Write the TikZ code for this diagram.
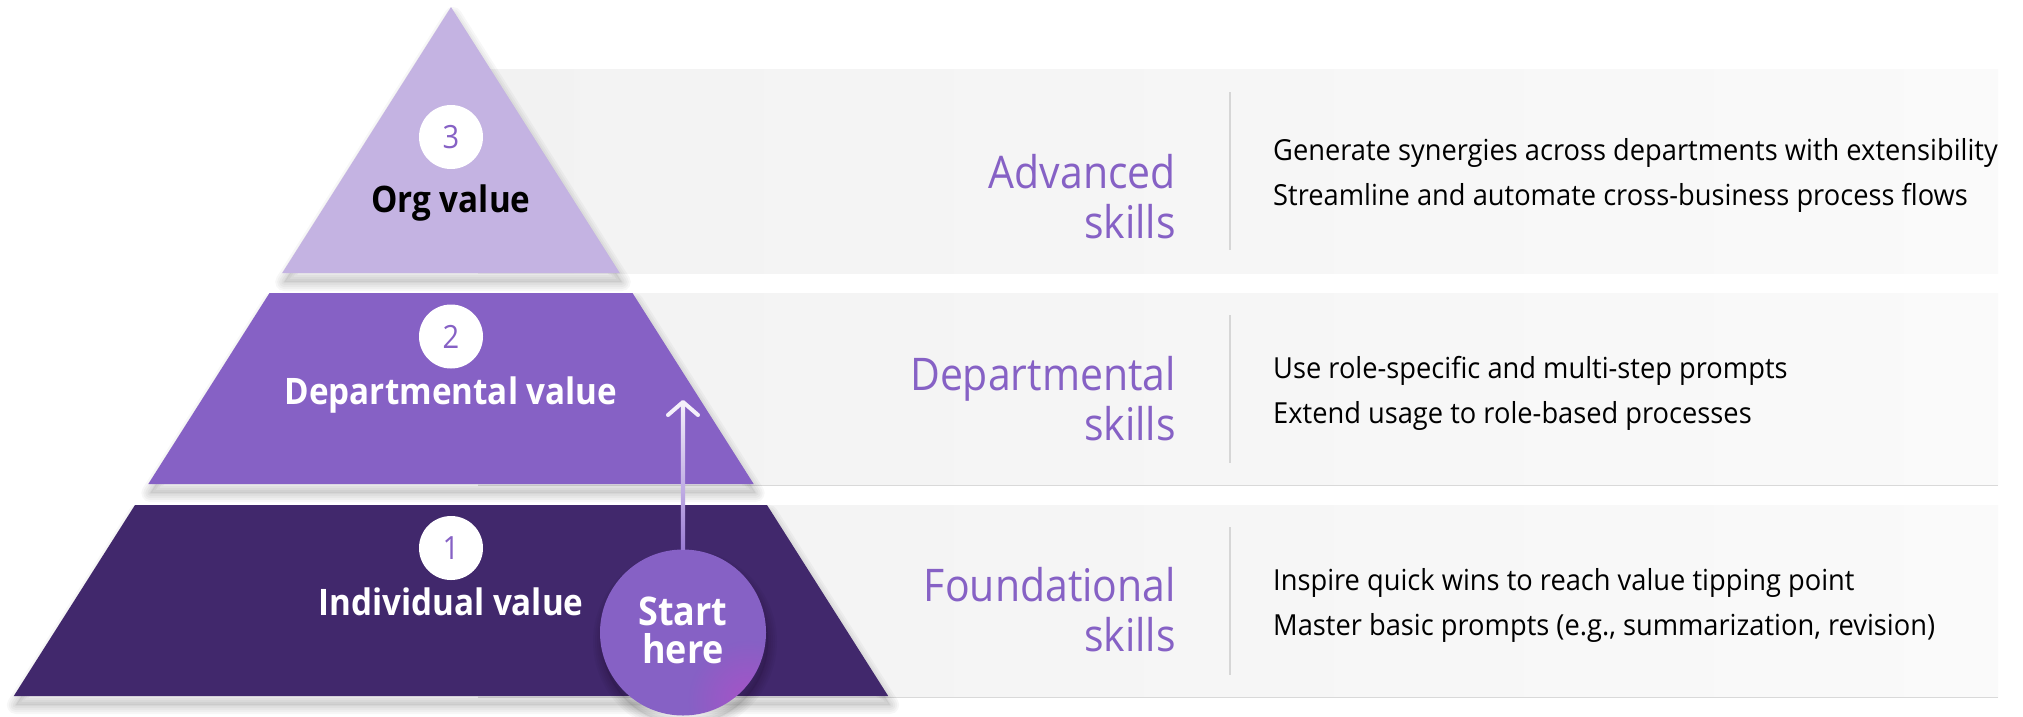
\documentclass[tikz,border=0pt]{standalone}
\usepackage{fontspec}
\setmainfont{Open Sans}[FakeStretch=0.91]
\newfontfamily\descfont{Open Sans}[FakeStretch=0.94]
\usetikzlibrary{fadings,calc}
\definecolor{lav}{HTML}{C4B3E2}
\definecolor{mpurp}{HTML}{8661C5}
\definecolor{dpurp}{HTML}{41286C}
\definecolor{bandL}{HTML}{F2F2F2}
\definecolor{bandR}{HTML}{FAFAFA}
\definecolor{bline}{HTML}{D9D9D9}
\definecolor{divc}{HTML}{D6D6D6}
\definecolor{glow}{HTML}{B04FC8}
\definecolor{arrtop}{HTML}{F4F0FA}
\definecolor{arrbot}{HTML}{9B7DD4}
\tikzfading[name=glowfade, inner color=transparent!25, outer color=transparent!100]
\newcommand\mysoftshadow[1]{%
  \foreach \w in {2,6,10,14,18}{%
    \draw[black, opacity=0.03, line width=\w, line join=round, shift={(2,9)}] #1;}%
  \fill[black, opacity=0.06, shift={(2,9)}] #1;}
\tikzset{
  band/.style={left color=bandL, right color=bandR},
  bandrule/.style={draw=bline, line width=1.5},
  divider/.style={draw=divc, line width=2},
  numc/.style={circle, fill=white, minimum size=64, inner sep=0, text=mpurp, font=\fontsize{32}{32}\selectfont},
  lvl/.style={anchor=base, inner sep=0, font=\bfseries\fontsize{36.5}{40}\selectfont},
  skill/.style={anchor=north east, align=right, inner sep=0, text=mpurp, font=\fontsize{45}{50}\selectfont},
  desc/.style={anchor=north west, align=left, inner sep=0, text=black, font=\descfont\fontsize{29}{45}\selectfont},
  startc/.style={circle, fill=mpurp, minimum size=166, inner sep=0},
  starttxt/.style={align=center, inner sep=0, text=white, font=\bfseries\fontsize{39.5}{38}\selectfont},
}
\begin{document}
\begin{tikzpicture}[x=1pt,y=-1pt]
\useasboundingbox (0,0) rectangle (2023,716);
\fill[white] (0,0) rectangle (2023,716);
% bands
\shade[band] (478,69) rectangle (1998,273);
\shade[band] (478,293) rectangle (1998,485);
\shade[band] (478,505) rectangle (1998,697);
\draw[bandrule] (478,485.5) -- (1998,485.5);
\draw[bandrule] (478,697.5) -- (1998,697.5);
% dividers
\draw[divider] (1230,92) -- (1230,250);
\draw[divider] (1230,315) -- (1230,463);
\draw[divider] (1230,527) -- (1230,675);
% shadows
\mysoftshadow{(451,7) -- (619.8,273) -- (282.2,273) -- cycle}
\mysoftshadow{(269.5,293) -- (632.5,293) -- (753.7,484) -- (148.3,484) -- cycle}
\mysoftshadow{(135,505) -- (767,505) -- (888.2,696) -- (13.8,696) -- cycle}
% pyramid levels
\fill[lav] (451,7) -- (619.8,273) -- (282.2,273) -- cycle;
\fill[mpurp] (269.5,293) -- (632.5,293) -- (753.7,484) -- (148.3,484) -- cycle;
\fill[dpurp] (135,505) -- (767,505) -- (888.2,696) -- (13.8,696) -- cycle;
% numbers
\node[numc] (n3) at (451,137) {3};
\node[numc] (n2) at (451,336.5) {2};
\node[numc] (n1) at (451,548) {1};
% level labels
\node[lvl, text=black] (l3) at (451,212) {Org value};
\node[lvl, text=white] (l2) at (451,404) {Departmental value};
\node[lvl, text=white] (l1) at (451,615) {Individual value};
% start circle
\mysoftshadow{(683,632.5) circle (83)}
\node[startc] (start) at (683,632.5) {};
\begin{scope}
  \clip (start.center) circle (83);
  \fill[glow, path fading=glowfade] (748,700) circle (60);
\end{scope}
\node[starttxt] (st) at (683,630) {Start\\here};
% arrow
\coordinate (arrtip) at (683,402);
\shade[top color=arrtop, bottom color=arrbot] ($(start.north)+(-2.2,0)$) rectangle ($(arrtip)+(2.2,0)$);
\draw[arrtop, line width=4, line cap=round, line join=round] ($(arrtip)+(-15,13)$) -- (arrtip) -- ($(arrtip)+(15,13)$);
% skill labels
\node[skill] (s3) at (1176,154) {Advanced\\skills};
\node[skill] (s2) at (1176,355.8) {Departmental\\skills};
\node[skill] (s1) at (1176,567.5) {Foundational\\skills};
% descriptions
\node[desc] (d3) at (1273,138) {Generate synergies across departments with extensibility\\Streamline and automate cross-business process flows};
\node[desc] (d2) at (1273,356) {Use role-specific and multi-step prompts\\Extend usage to role-based processes};
\node[desc] (d1) at (1273,568) {Inspire quick wins to reach value tipping point\\Master basic prompts (e.g., summarization, revision)};
\end{tikzpicture}
\end{document}
